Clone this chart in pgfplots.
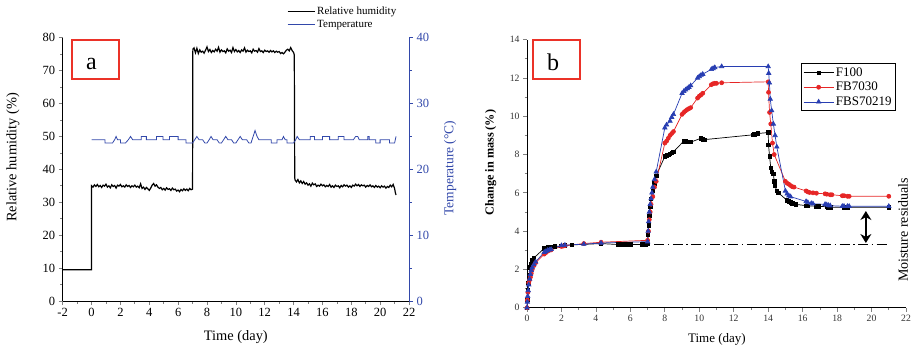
\documentclass[border=0pt]{standalone}
\usepackage{fontspec}
\setmainfont{Liberation Serif}
\usepackage{pgfplots}
\pgfplotsset{compat=1.18}
\usetikzlibrary{arrows.meta}
\definecolor{tblue}{RGB}{50,72,170}
\definecolor{mred}{RGB}{230,38,38}
\definecolor{mblue}{RGB}{40,62,178}
\definecolor{boxred}{RGB}{235,50,40}
\begin{document}
\begin{tikzpicture}[x=1bp,y=1bp]
\useasboundingbox (0,0) rectangle (914,348);
\pgfplotsset{every axis/.append style={scale only axis,
  /pgf/number format/assume math mode=true,
  tick align=outside, major tick length=4bp, minor tick length=2.5bp,
  axis line style={line width=0.8bp}, tick style={line width=0.7bp}}}
% ---------------- panel a : relative humidity ----------------
\begin{axis}[at={(62.7bp,47bp)}, anchor=south west, width=346.3bp, height=263.3bp,
  xmin=-2, xmax=22, ymin=0, ymax=80,
  axis x line*=bottom, axis y line*=left,
  xtick={-2,0,...,22}, ytick={0,10,...,80},
  minor x tick num=1, minor y tick num=1,
  tick label style={font=\fontsize{12.5bp}{14bp}\selectfont},
  xlabel={Time (day)}, ylabel={Relative humidity (\%)},
  label style={font=\fontsize{14.4bp}{16bp}\selectfont},
  xlabel style={at={(axis description cs:0.5,-0.137)}, anchor=center},
  ylabel style={at={(axis description cs:-0.1435,0.545)}, anchor=center}]
\addplot[black, line width=1.2bp] coordinates {
(-2,9.5) (0,9.5) (0,35.0)
(0.1,34.6) (0.2,35.3) (0.3,34.8) (0.4,35.4) (0.5,34.7) (0.6,35.1) (0.7,34.5) (0.8,35.2) (0.9,34.9) (1.0,35.5)
(1.1,34.6) (1.2,35.0) (1.3,34.4) (1.4,35.3) (1.5,34.8) (1.6,35.1) (1.7,34.3) (1.8,35.2) (1.9,34.9) (2.0,35.4)
(2.1,34.7) (2.2,35.0) (2.3,34.6) (2.4,35.3) (2.5,34.8) (2.6,35.1) (2.7,34.5) (2.8,35.0) (2.9,34.7) (3.0,35.2)
(3.1,34.6) (3.2,34.9) (3.3,34.4) (3.4,35.6) (3.5,34.2) (3.6,34.6) (3.7,33.9) (3.8,34.5) (3.9,34.1) (4.0,33.6)
(4.1,34.3) (4.2,35.2) (4.3,35.7) (4.4,34.9) (4.5,35.3) (4.6,34.6) (4.7,34.2) (4.8,34.5) (4.9,33.8) (5.0,34.2)
(5.1,33.7) (5.2,34.4) (5.3,33.9) (5.4,34.1) (5.5,33.6) (5.6,34.3) (5.7,33.8) (5.8,34.0) (5.9,33.4) (6.0,33.7)
(6.1,33.2) (6.2,33.9) (6.3,33.5) (6.4,34.1) (6.5,33.6) (6.6,34.0) (6.7,33.5) (6.8,34.2) (6.9,33.8) (7.0,34.0)
(7.02,76.5)
(7.1,76.9) (7.2,75.4) (7.3,76.8) (7.4,75.2) (7.5,76.3) (7.6,75.6) (7.7,75.9) (7.8,75.3) (7.9,76.2) (8.0,77.2)
(8.1,75.8) (8.2,76.4) (8.3,75.5) (8.4,76.1) (8.5,75.7) (8.6,76.5) (8.7,75.9) (8.8,77.1) (8.9,75.6) (9.0,76.3)
(9.1,75.8) (9.2,76.0) (9.3,75.4) (9.4,76.6) (9.5,75.9) (9.6,76.2) (9.7,75.5) (9.8,77.0) (9.9,75.8) (10.0,76.4)
(10.1,75.7) (10.2,76.1) (10.3,75.5) (10.4,76.3) (10.5,75.9) (10.6,76.9) (10.7,75.6) (10.8,76.2) (10.9,75.8) (11.0,76.0)
(11.1,75.4) (11.2,76.5) (11.3,75.9) (11.4,76.1) (11.5,75.6) (11.6,76.7) (11.7,75.8) (11.8,76.0) (11.9,75.5) (12.0,76.2)
(12.1,75.8) (12.2,76.0) (12.3,75.6) (12.4,76.1) (12.5,75.7) (12.6,76.0) (12.7,75.5) (12.8,75.9) (12.9,75.6) (13.0,75.8)
(13.1,75.2) (13.2,75.5) (13.3,75.1) (13.4,75.6) (13.5,76.2) (13.6,76.5) (13.7,76.0) (13.8,77.0) (13.9,76.1) (14.0,75.5)
(14.05,74.8) (14.08,37.5)
(14.1,36.8) (14.2,36.2) (14.3,36.9) (14.4,35.9) (14.5,36.5) (14.6,35.7) (14.7,36.3) (14.8,35.5) (14.9,35.9) (15.0,35.2)
(15.1,35.6) (15.2,34.9) (15.3,35.8) (15.4,35.3) (15.5,35.6) (15.6,34.8) (15.7,35.2) (15.8,34.9) (15.9,35.5) (16.0,35.0)
(16.1,35.3) (16.2,34.7) (16.3,35.1) (16.4,34.8) (16.5,35.4) (16.6,34.6) (16.7,35.0) (16.8,34.5) (16.9,35.2) (17.0,34.8)
(17.1,35.0) (17.2,34.4) (17.3,35.1) (17.4,34.7) (17.5,35.3) (17.6,34.9) (17.7,35.2) (17.8,34.6) (17.9,35.0) (18.0,34.5)
(18.1,35.2) (18.2,34.9) (18.3,35.5) (18.4,35.0) (18.5,35.4) (18.6,34.8) (18.7,35.3) (18.8,35.0) (18.9,35.2) (19.0,34.6)
(19.1,35.1) (19.2,34.8) (19.3,35.3) (19.4,34.7) (19.5,35.0) (19.6,34.5) (19.7,35.1) (19.8,34.6) (19.9,34.9) (20.0,34.4)
(20.1,35.0) (20.2,34.6) (20.3,34.9) (20.4,34.3) (20.5,34.8) (20.6,34.5) (20.7,35.2) (20.8,34.7) (20.9,35.4) (21.0,34.2)
(21.05,33.0) (21.1,32.2)
};
\end{axis}
% ---------------- panel a : temperature ----------------
\begin{axis}[at={(62.7bp,47bp)}, anchor=south west, width=346.3bp, height=263.3bp,
  xmin=-2, xmax=22, ymin=0, ymax=40,
  axis x line=none, axis y line*=right,
  ytick={0,10,...,40}, minor y tick num=1,
  axis line style={tblue}, tick style={tblue},
  y tick label style={tblue, font=\fontsize{12.5bp}{14bp}\selectfont},
  ylabel={Temperature (°C)},
  ylabel style={tblue, font=\fontsize{13.5bp}{16bp}\selectfont, at={(axis description cs:1.1184,0.505)}, anchor=center},
  legend style={at={(0.645,1.13)}, anchor=north west, draw=none, fill=none,
    font=\fontsize{11bp}{13bp}\selectfont, inner sep=1bp, row sep=0.5bp},
  legend cell align=left,
  legend image code/.code={\draw[#1] (0bp,0bp) -- (27bp,0bp);}]
\addlegendimage{black, line width=0.9bp}
\addlegendentry{Relative humidity}
\addplot[tblue, line width=0.8bp] coordinates {
(0,24.5) (0.93,24.5) (0.93,24.0) (1.45,24.0) (1.6,24.5) (1.7,25.0) (1.8,24.5) (2.0,24.5) (2.0,24.0) (2.35,24.0)
(2.55,24.5) (2.7,25.0) (2.85,24.5) (3.45,24.5) (3.45,25.0) (3.8,25.0) (3.8,24.5) (4.5,24.5) (4.5,25.0) (4.95,25.0)
(4.95,24.5) (5.4,24.5) (5.4,25.0) (6.0,25.0) (6.0,24.5) (6.55,24.5) (6.55,24.0) (7.0,24.0) (7.15,24.5) (7.3,25.0)
(7.45,24.5) (7.7,24.5) (7.85,24.0) (8.0,24.0) (8.15,24.5) (8.28,25.0) (8.42,24.5) (8.7,24.5) (8.85,24.0) (9.0,24.0)
(9.15,24.5) (9.3,25.0) (9.45,24.5) (9.7,24.5) (9.85,24.0) (10.0,24.0) (10.15,24.5) (10.3,25.0) (10.45,24.5) (10.75,24.5)
(10.9,24.0) (11.05,24.0) (11.2,25.0) (11.33,25.9) (11.47,25.0) (11.6,24.5) (12.45,24.5) (12.45,24.0) (12.85,24.0) (12.85,24.5)
(13.2,24.5) (13.3,25.0) (13.42,24.5) (13.55,24.5) (13.55,24.0) (14.0,24.0) (14.15,24.5) (14.25,25.0) (14.4,24.5) (15.15,24.5)
(15.15,25.0) (15.45,25.0) (15.45,24.5) (16.0,24.5) (16.0,25.0) (16.5,25.0) (16.5,24.5) (17.1,24.5) (17.1,25.0) (17.5,25.0)
(17.5,24.5) (18.15,24.5) (18.3,25.0) (18.45,25.0) (18.55,24.5) (19.15,24.5) (19.15,25.0) (19.25,25.0) (19.25,24.5) (19.7,24.5)
(19.7,24.0) (20.0,24.0) (20.0,24.5) (20.65,24.5) (20.65,24.0) (21.0,24.0) (21.1,25.0)
};
\addlegendentry{Temperature}
\end{axis}
% ---------------- panel b ----------------
\begin{axis}[at={(527bp,40.3bp)}, anchor=south west, width=379bp, height=268bp,
  xmin=0, xmax=22, ymin=0, ymax=14, clip=false,
  axis x line*=bottom, axis y line*=left,
  xtick={0,2,...,22}, ytick={0,2,...,14}, minor tick num=1,
  tick label style={font=\fontsize{9.7bp}{11bp}\selectfont, color=black!80},
  xlabel={Time (day)},
  xlabel style={font=\fontsize{13bp}{15bp}\selectfont, at={(axis description cs:0.501,-0.117)}, anchor=center},
  ylabel={Change in mass (\%)},
  ylabel style={font=\fontsize{12.2bp}{14bp}\selectfont\bfseries, at={(axis description cs:-0.0958,0.542)}, anchor=center},
  legend style={at={(0.974,0.913)}, anchor=north east, draw=black, line width=1.1bp,
    font=\fontsize{13bp}{15bp}\selectfont, inner sep=2bp, row sep=0.5bp},
  legend cell align=left,
  legend image code/.code={\draw[mark repeat=2,mark phase=2,#1] plot coordinates {(0bp,0bp) (15bp,0bp) (30bp,0bp)};}]
\addplot[black, line width=0.7bp, mark=square*, mark size=1.7bp] coordinates {
(0,0) (0.02,0.4) (0.05,0.9) (0.08,1.3) (0.12,1.7) (0.17,2.1) (0.22,2.3) (0.3,2.5) (0.4,2.6) (1.0,3.1)
(1.1,3.12) (1.2,3.15) (1.3,3.15) (1.5,3.18) (1.6,3.2) (2.0,3.22) (2.2,3.25) (2.6,3.28) (4.3,3.35) (5.3,3.3)
(5.4,3.3) (5.5,3.3) (5.6,3.3) (5.7,3.3) (5.8,3.3) (5.9,3.3) (6.0,3.3) (6.7,3.3) (6.9,3.3) (7.0,3.32)
(7.03,3.8) (7.06,4.3) (7.1,4.8) (7.15,5.3) (7.2,5.7) (7.3,6.1) (7.4,6.5) (7.5,6.9) (8.0,7.9) (8.1,7.95)
(8.2,8.0) (8.3,8.05) (8.4,8.1) (8.5,8.15) (9.1,8.7) (9.2,8.68) (9.3,8.67) (9.4,8.66) (9.5,8.65) (10.1,8.85)
(10.2,8.8) (10.3,8.78) (13.1,9.03) (13.2,9.05) (13.3,9.08) (13.4,9.1) (14.0,9.15) (14.02,8.5) (14.08,7.9) (14.15,7.3)
(14.2,7.1) (14.3,7.0) (14.35,6.6) (14.4,6.35) (14.5,6.1) (14.6,6.0) (15.1,5.6) (15.2,5.55) (15.3,5.5) (15.4,5.45)
(15.5,5.42) (15.6,5.4) (16.2,5.33) (16.3,5.32) (16.8,5.3) (16.9,5.3) (17.4,5.27) (17.5,5.25) (17.6,5.25) (18.4,5.25)
(18.5,5.25) (18.6,5.25) (21.0,5.25)
};
\addlegendentry{F100}
\addplot[mred, line width=0.7bp, mark=*, mark size=2bp] coordinates {
(0,0) (0.02,0.4) (0.05,0.8) (0.1,1.3) (0.15,1.45) (0.2,1.6) (0.25,1.8) (0.3,2.0) (0.4,2.2) (0.5,2.35)
(1.0,2.8) (1.1,2.88) (1.2,2.95) (1.3,3.0) (1.4,3.02) (2.0,3.2) (2.1,3.22) (2.2,3.24) (3.3,3.35) (4.3,3.42)
(7.0,3.52) (7.05,4.0) (7.1,4.6) (7.15,5.0) (7.2,5.4) (7.3,5.8) (7.4,6.3) (7.5,6.6) (8.0,8.6) (8.1,8.7)
(8.2,8.85) (8.3,9.0) (8.4,9.1) (8.5,9.2) (9.0,10.1) (9.1,10.2) (9.2,10.28) (9.3,10.35) (9.4,10.4) (9.5,10.45)
(9.9,10.95) (10.0,11.05) (10.1,11.12) (10.2,11.2) (10.7,11.65) (10.8,11.7) (10.9,11.72) (11.0,11.72) (11.3,11.75) (14.0,11.8)
(14.02,11.25) (14.08,10.2) (14.15,9.6) (14.25,8.6) (14.35,8.0) (15.0,6.6) (15.1,6.5) (15.2,6.45) (15.3,6.38) (15.4,6.32)
(15.5,6.3) (16.2,6.1) (16.3,6.05) (16.4,6.02) (16.6,6.0) (16.8,5.98) (17.3,5.95) (17.4,5.93) (17.6,5.9) (17.7,5.9)
(18.3,5.85) (18.4,5.85) (18.6,5.82) (18.7,5.82) (21.0,5.82)
};
\addlegendentry{FB7030}
\addplot[mblue, line width=0.7bp, mark=triangle*, mark size=2.5bp] coordinates {
(0,0) (0.02,0.3) (0.04,0.6) (0.07,0.9) (0.1,1.2) (0.15,1.5) (0.2,1.75) (0.25,1.95) (0.3,2.1) (0.4,2.25)
(0.5,2.4) (1.0,2.9) (1.1,2.95) (1.2,3.0) (1.3,3.02) (1.4,3.05) (2.0,3.25) (2.2,3.27) (3.3,3.32) (4.3,3.38)
(7.0,3.45) (7.03,4.0) (7.06,4.5) (7.1,5.0) (7.15,5.4) (7.2,5.7) (7.25,6.0) (7.3,6.3) (7.4,6.7) (7.5,7.1)
(8.0,9.4) (8.1,9.55) (8.3,9.75) (8.4,9.95) (8.5,10.1) (9.0,11.2) (9.1,11.3) (9.2,11.38) (9.3,11.45) (9.4,11.52)
(9.5,11.6) (9.9,12.0) (10.0,12.08) (10.1,12.15) (10.2,12.2) (10.7,12.45) (10.8,12.5) (10.9,12.55) (11.3,12.6) (14.0,12.6)
(14.03,12.25) (14.07,11.75) (14.12,10.9) (14.2,10.3) (14.3,9.6) (14.4,9.0) (14.5,8.4) (15.0,6.1) (15.1,5.95) (15.2,5.85)
(15.3,5.8) (16.2,5.55) (16.3,5.5) (16.5,5.45) (16.6,5.43) (17.3,5.4) (17.4,5.38) (17.5,5.35) (17.6,5.33) (18.3,5.3)
(18.4,5.3) (18.6,5.3) (18.7,5.3) (21.0,5.3)
};
\addlegendentry{FBS70219}
\addplot[black, line width=1.1bp, dash pattern=on 10bp off 3.5bp on 1.5bp off 3.5bp, forget plot] coordinates {(7.4,3.3) (21,3.3)};
\addplot[black, line width=2bp, {Stealth[length=9bp,width=11bp]}-{Stealth[length=9bp,width=11bp]}, forget plot] coordinates {(19.67,3.38) (19.67,5.05)};
\node[rotate=90, anchor=center, font=\fontsize{14bp}{16bp}\selectfont] at (rel axis cs:0.992,0.29) {Moisture residuals};
\end{axis}
% ---------------- panel labels ----------------
\draw[boxred, line width=1.3bp] (72,269) rectangle (119,308);
\node[font=\fontsize{24bp}{26bp}\selectfont, inner sep=0pt] at (91.5,284.3) {a};
\draw[boxred, line width=1.3bp] (533,269) rectangle (580,308);
\node[font=\fontsize{24bp}{26bp}\selectfont, inner sep=0pt] at (553,285.8) {b};
\end{tikzpicture}
\end{document}
